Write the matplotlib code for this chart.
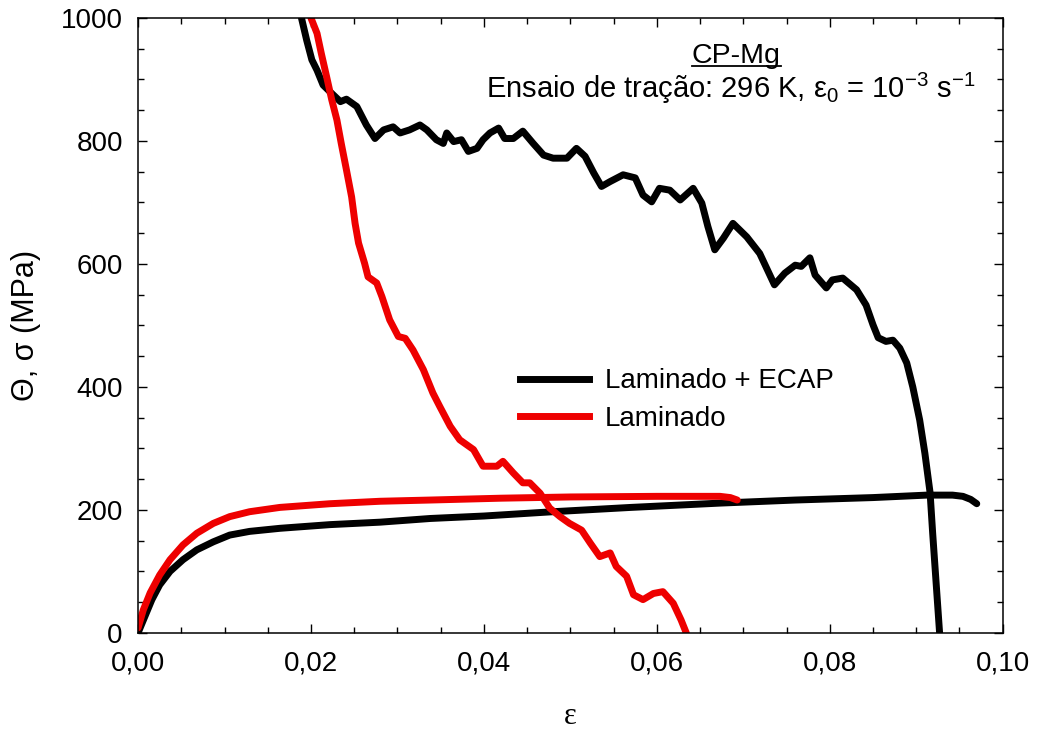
import matplotlib
matplotlib.use('Agg')
import matplotlib.pyplot as plt
from matplotlib.lines import Line2D
from matplotlib.ticker import MultipleLocator, FuncFormatter

plt.rcParams['font.family'] = ['Liberation Sans', 'DejaVu Sans']
plt.rcParams['mathtext.fontset'] = 'custom'
plt.rcParams['mathtext.rm'] = 'Liberation Sans'
plt.rcParams['mathtext.it'] = 'Liberation Sans'

# Laminado + ECAP: work hardening rate (Theta)
ecap_theta_eps = [0.0189, 0.0195, 0.0201, 0.0207, 0.0214, 0.0222, 0.0234, 0.0241, 0.0253, 0.0264,
                  0.0274, 0.0284, 0.0295, 0.0303, 0.0314, 0.0326, 0.0334, 0.0345, 0.0353, 0.0357,
                  0.0365, 0.0374, 0.0382, 0.0392, 0.0399, 0.0407, 0.0417, 0.0424, 0.0434, 0.0445,
                  0.0457, 0.0469, 0.0480, 0.0496, 0.0507, 0.0517, 0.0527, 0.0536, 0.0546, 0.0561,
                  0.0575, 0.0584, 0.0594, 0.0603, 0.0615, 0.0627, 0.0642, 0.0652, 0.0659, 0.0667,
                  0.0677, 0.0688, 0.0704, 0.0719, 0.0736, 0.0748, 0.0760, 0.0767, 0.0777, 0.0783,
                  0.0796, 0.0803, 0.0815, 0.0831, 0.0842, 0.0850, 0.0856, 0.0865, 0.0873, 0.0881,
                  0.0889, 0.0896, 0.0904, 0.0910, 0.0916, 0.0919, 0.0923, 0.0927]
ecap_theta = [1000, 964, 932, 915, 891, 880, 864, 868, 856, 826,
              804, 818, 823, 813, 818, 826, 818, 802, 796, 813,
              799, 802, 783, 788, 802, 813, 821, 804, 804, 816,
              796, 777, 772, 772, 788, 775, 748, 726, 734, 745,
              740, 712, 701, 723, 720, 704, 723, 699, 661, 623,
              642, 666, 644, 617, 566, 585, 598, 596, 610, 582,
              561, 574, 577, 558, 533, 501, 480, 474, 476, 463,
              439, 400, 346, 292, 228, 162, 81, 0]

# Laminado + ECAP: true stress
ecap_sig_eps = [0.0, 0.0008, 0.0016, 0.0025, 0.0037, 0.0052, 0.0068, 0.0087, 0.0106, 0.0129,
                0.0164, 0.0222, 0.0280, 0.0338, 0.0400, 0.0480, 0.0570, 0.0673, 0.0760, 0.0850,
                0.0912, 0.0942, 0.0954, 0.0963, 0.0970]
ecap_sig = [0, 27, 54, 78, 100, 119, 135, 148, 159, 165,
            170, 176, 180, 186, 190, 197, 204, 211, 216, 220,
            224, 224, 222, 217, 210]

# Laminado: true stress
lam_sig_eps = [0.0, 0.0006, 0.0014, 0.0025, 0.0037, 0.0052, 0.0068, 0.0087, 0.0106, 0.0129,
               0.0164, 0.0222, 0.0280, 0.0338, 0.0420, 0.0500, 0.0600, 0.0673, 0.0685, 0.0693]
lam_sig = [8, 37, 65, 94, 119, 143, 162, 178, 189, 197,
           204, 210, 214, 216, 219, 221, 222, 222, 220, 216]

# Laminado: work hardening rate (Theta)
lam_theta_eps = [0.0200, 0.0207, 0.0212, 0.0218, 0.0224, 0.0230, 0.0235, 0.0241, 0.0247, 0.0251,
                 0.0255, 0.0262, 0.0266, 0.0276, 0.0282, 0.0291, 0.0301, 0.0309, 0.0318, 0.0330,
                 0.0341, 0.0349, 0.0361, 0.0372, 0.0388, 0.0399, 0.0415, 0.0422, 0.0434, 0.0445,
                 0.0453, 0.0465, 0.0476, 0.0488, 0.0499, 0.0513, 0.0523, 0.0534, 0.0546, 0.0553,
                 0.0565, 0.0573, 0.0584, 0.0596, 0.0607, 0.0619, 0.0628, 0.0634]
lam_theta = [1000, 975, 942, 905, 867, 834, 796, 753, 709, 666,
             634, 601, 579, 569, 547, 509, 482, 479, 460, 428,
             390, 368, 336, 314, 298, 271, 271, 279, 260, 244,
             244, 227, 203, 189, 178, 167, 146, 124, 130, 108,
             92, 62, 54, 64, 67, 48, 21, 0]

fig = plt.figure(figsize=(10.38, 7.35), dpi=100)
ax = fig.add_axes([0.133, 0.139, 0.833, 0.8365])

lw = 5.0
red = '#ee0000'
ax.plot(ecap_theta_eps, ecap_theta, color='black', lw=lw, solid_capstyle='round', solid_joinstyle='round')
ax.plot(ecap_sig_eps, ecap_sig, color='black', lw=lw, solid_capstyle='round', solid_joinstyle='round')
ax.plot(lam_theta_eps, lam_theta, color=red, lw=lw, solid_capstyle='round', solid_joinstyle='round')
ax.plot(lam_sig_eps, lam_sig, color=red, lw=lw, solid_capstyle='round', solid_joinstyle='round')

ax.set_xlim(0, 0.10)
ax.set_ylim(0, 1000)
ax.xaxis.set_major_locator(MultipleLocator(0.02))
ax.xaxis.set_minor_locator(MultipleLocator(0.005))
ax.yaxis.set_major_locator(MultipleLocator(200))
ax.yaxis.set_minor_locator(MultipleLocator(50))
ax.xaxis.set_major_formatter(FuncFormatter(lambda v, p: f'{v:.2f}'.replace('.', ',')))

ax.tick_params(which='both', direction='in', top=True, right=True, width=1.0)
ax.tick_params(which='major', length=6.5, labelsize=20)
ax.tick_params(axis='x', which='major', pad=13)
ax.tick_params(axis='y', which='major', pad=11)
ax.tick_params(which='minor', length=4.3)
for s in ax.spines.values():
    s.set_linewidth(1.1)

ax.set_ylabel('Θ, σ (MPa)', fontsize=22, labelpad=14)
ax.set_xlabel('ε', fontsize=22, family=['Liberation Serif', 'DejaVu Serif'], labelpad=18)

handles = [Line2D([], [], color='black', lw=lw), Line2D([], [], color=red, lw=lw)]
ax.legend(handles, ['Laminado + ECAP', 'Laminado'], loc='upper left',
          bbox_to_anchor=(0.4416, 0.430), frameon=False, fontsize=20,
          handlelength=2.5, handletextpad=0.55, labelspacing=0.42,
          borderpad=0, borderaxespad=0)

t1 = ax.text(0.692, 0.927, 'CP-Mg', transform=ax.transAxes, fontsize=20.5,
             ha='center', va='baseline')
ax.text(0.685, 0.870, 'Ensaio de tração: 296 K, ε$_{0}$ = 10$^{-3}$ s$^{-1}$',
        transform=ax.transAxes, fontsize=21, ha='center', va='baseline')

# underline for the CP-Mg label
fig.canvas.draw()
bb = t1.get_window_extent()
inv = fig.transFigure.inverted()
(ux0, uy0), (ux1, _) = inv.transform([(bb.x0, bb.y0 + 0.12 * bb.height), (bb.x1, bb.y0)])
fig.add_artist(Line2D([ux0, ux1], [uy0, uy0], color='black', lw=1.3))

fig.savefig('out.png', dpi=100)
